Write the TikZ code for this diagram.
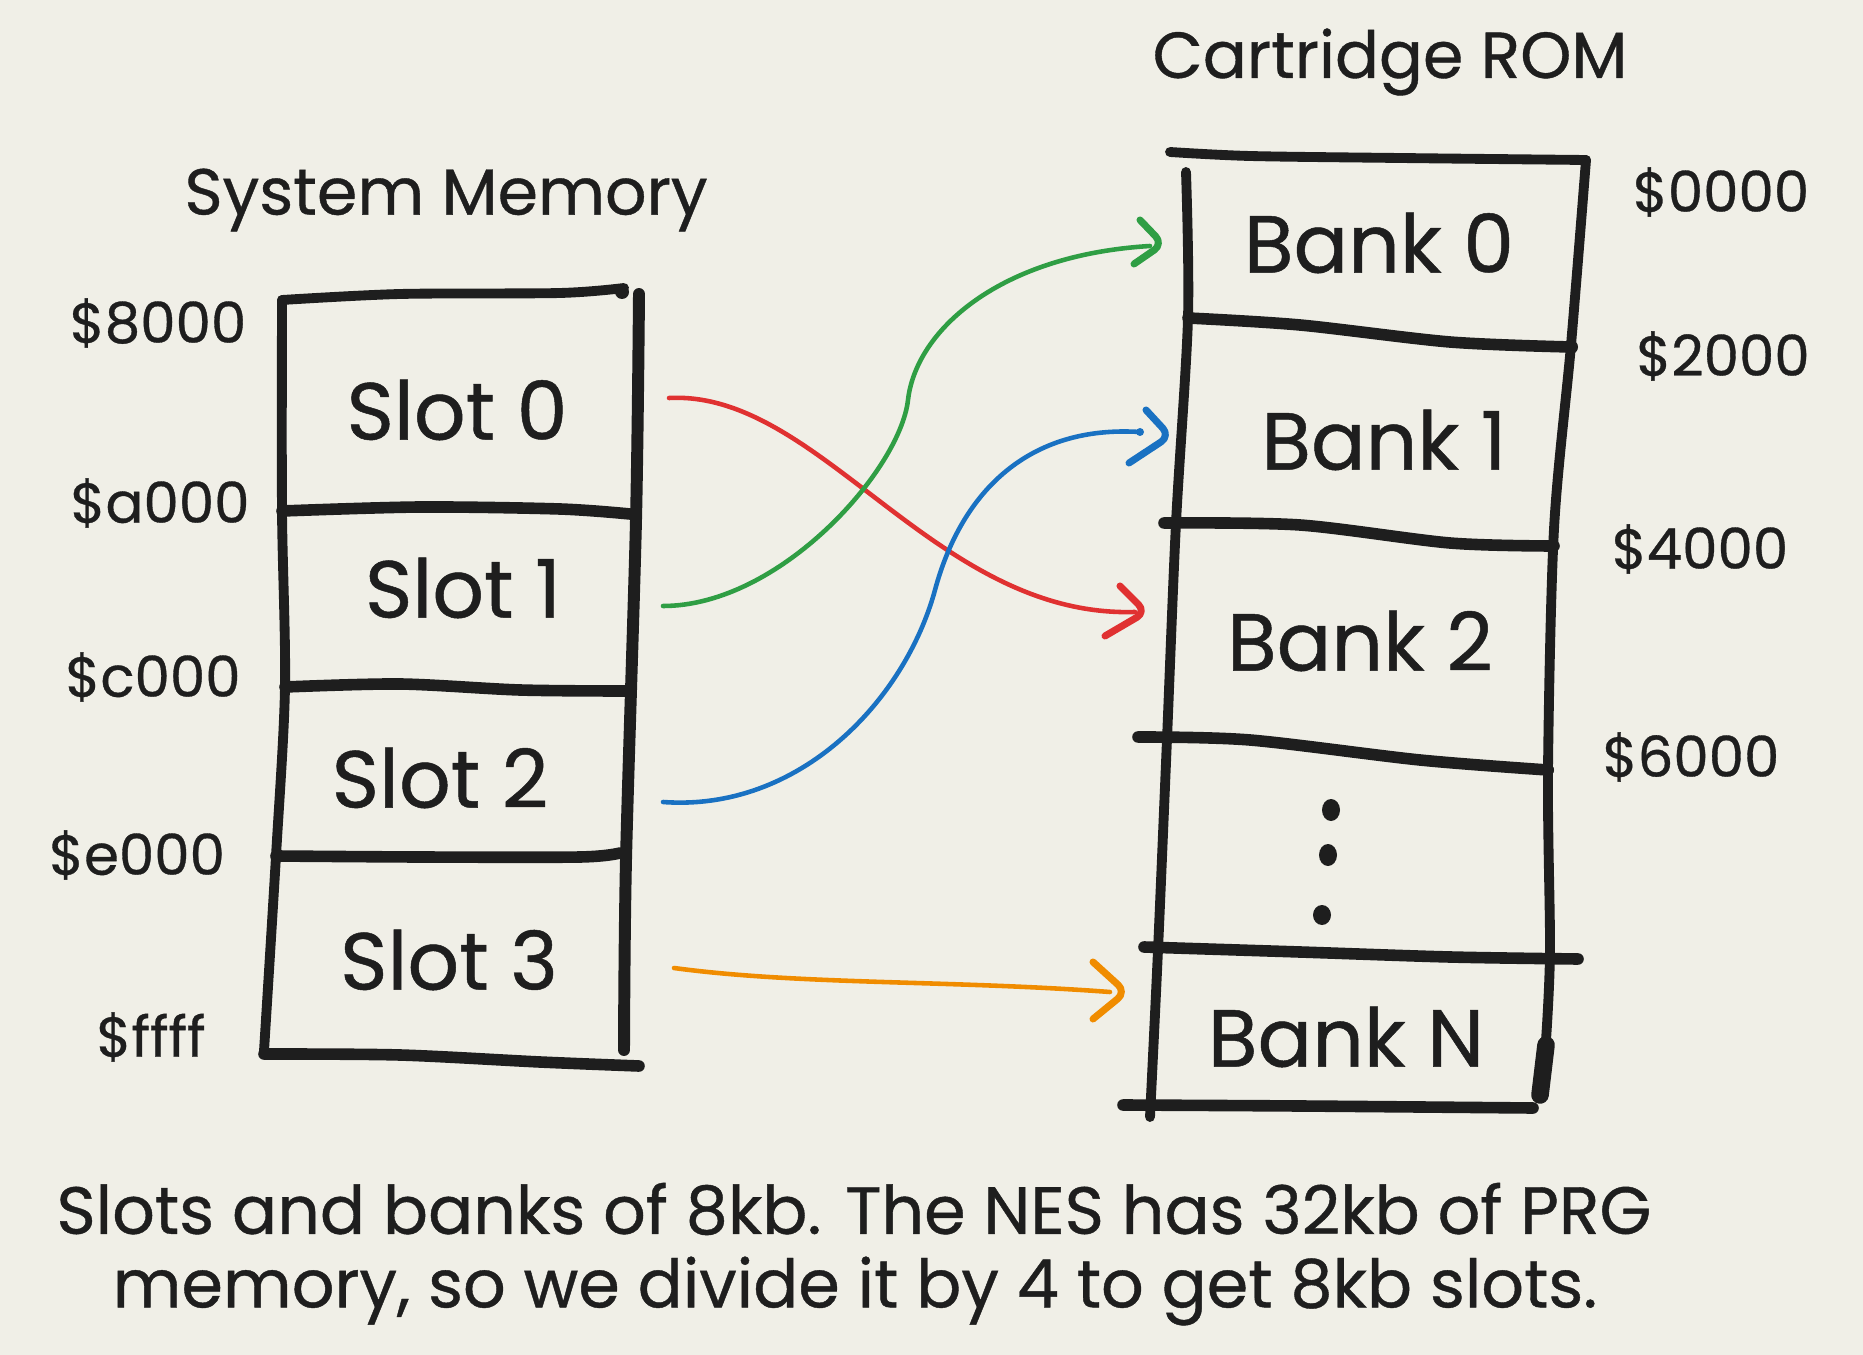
\documentclass[tikz,border=0pt]{standalone}
\usepackage{fontspec}
\setmainfont{Poppins}[FakeBold=0.6]
\definecolor{bg}{HTML}{F0EFE7}
\definecolor{ink}{HTML}{1E1E1E}
\definecolor{cred}{HTML}{E03131}
\definecolor{cgreen}{HTML}{2F9E44}
\definecolor{cblue}{HTML}{1971C2}
\definecolor{corange}{HTML}{F08C00}
\tikzset{
  ln/.style={draw=ink, line width=2.8pt, line cap=round, line join=round},
  dv/.style={draw=ink, line width=3.3pt, line cap=round, line join=round},
  conn/.style={line width=1.3pt, line cap=round},
  head/.style={line width=2pt, line cap=round, line join=round, rounded corners=3pt},
  lbl/.style={text=ink, inner sep=0pt, font=\fontsize{23}{26}\selectfont},
  addr/.style={text=ink, inner sep=0pt, font=\fontsize{16}{19}\selectfont},
  ttl/.style={text=ink, inner sep=0pt, font=\fontsize{18.5}{22}\selectfont},
  captxt/.style={text=ink, inner sep=0pt, font=\fontsize{19}{22}\selectfont},
}
\begin{document}
\begin{tikzpicture}[x=0.01cm,y=-0.01cm]
\fill[bg] (0,0) rectangle (1863,1355);
\useasboundingbox (0,0) rectangle (1863,1355);

% ---------- System Memory box ----------
\draw[ln] plot[smooth] coordinates {(282,300) (400,294) (560,293) (624,288)};
\fill[ink] (622,292) circle (7);
\draw[ln, line width=3.4pt] plot[smooth] coordinates {(639,294) (636,520) (626,860) (624,1050)};
\draw[ln] plot[smooth] coordinates {(282,300) (282,511) (285,687) (276,856) (264,1051)};
\draw[dv] plot[smooth] coordinates {(264,1054) (400,1055) (540,1062) (639,1066)};
\draw[dv] plot[smooth] coordinates {(282,511) (420,507) (560,509) (630,514)};
\draw[dv] plot[smooth] coordinates {(285,687) (400,684) (520,690) (626,691)};
\draw[dv] plot[smooth] coordinates {(276,856) (420,857) (580,857) (620,853)};

% ---------- Cartridge ROM box ----------
\draw[ln] plot[smooth] coordinates {(1170,152) (1250,156) (1400,158) (1586,160)};
\draw[ln] plot[smooth] coordinates {(1586,160) (1571,345) (1554,529) (1548,770) (1550,950) (1546,1040)};
\draw[ln, line width=5pt] (1546,1045) -- (1540,1095);
\draw[ln] plot[smooth] coordinates {(1186,172) (1188,318) (1176,523) (1167,739) (1158,950) (1150,1117)};
\draw[dv] plot[smooth] coordinates {(1188,318) (1300,325) (1450,342) (1571,347)};
\fill[ink] (1571,347) circle (7);
\fill[ink] (1190,320) circle (5);
\draw[dv] plot[smooth] coordinates {(1164,523) (1300,525) (1450,543) (1554,546)};
\draw[dv] plot[smooth] coordinates {(1138,737) (1250,740) (1420,760) (1548,770)};
\fill[ink] (1548,770) circle (6);
\draw[dv] plot[smooth] coordinates {(1144,947) (1300,952) (1450,957) (1578,959)};
\draw[dv] plot[smooth] coordinates {(1123,1105) (1300,1106) (1533,1108)};
\fill[ink] (1331,810) ellipse (9 and 11);
\fill[ink] (1328,855) ellipse (9 and 11);
\fill[ink] (1322,915) ellipse (9 and 10);

% ---------- Titles ----------
\node[ttl] (tsys) at (446,200) {System Memory};
\node[ttl] (trom) at (1390,62) {Cartridge ROM};

% ---------- Slots ----------
\node[lbl] (s0) at (457,410) {Slot 0};
\node[lbl] (s1) at (463,588) {Slot 1};
\node[lbl] (s2) at (440,778) {Slot 2};
\node[lbl] (s3) at (449,960) {Slot 3};

% ---------- Banks ----------
\node[lbl] (k0) at (1379,243) {Bank 0};
\node[lbl] (k1) at (1384,440) {Bank 1};
\node[lbl] (k2) at (1360,641) {Bank 2};
\node[lbl] (kn) at (1346,1037) {Bank N};

% ---------- Addresses ----------
\node[addr] (a8) at (158,323) {\$8000};
\node[addr] (aa) at (160,503) {\$a000};
\node[addr] (ac) at (153,677) {\$c000};
\node[addr] (ae) at (137,855) {\$e000};
\node[addr] (af) at (151,1037) {\$ffff};
\node[addr] (r0a) at (1721,192) {\$0000};
\node[addr] (r2a) at (1723,356) {\$2000};
\node[addr] (r4a) at (1700,549) {\$4000};
\node[addr] (r6a) at (1691,757) {\$6000};

% ---------- Caption ----------
\node[captxt] (c1) at (854,1209) {Slots and banks of 8kb. The NES has 32kb of PRG};
\node[captxt] (c2) at (855,1291) {memory, so we divide it by 4 to get 8kb slots.};

% ---------- Connectors ----------
\coordinate (rs) at (669,398);  \coordinate (re) at (1135,612);
\coordinate (rt) at (1146,612); \coordinate (ru) at (1120,586); \coordinate (rl) at (1105,636);
\draw[conn, cred] (rs) .. controls (820,390) and (935,618) .. (re);
\draw[head, cred] (ru) -- (rt) -- (rl);

\coordinate (gs) at (663,606); \coordinate (gm) at (908,400); \coordinate (ge) at (1150,246);
\coordinate (gt) at (1163,244); \coordinate (gu) at (1140,220); \coordinate (gl) at (1134,264);
\draw[conn, cgreen] (gs) .. controls (780,606) and (900,470) .. (gm) .. controls (916,330) and (1000,255) .. (ge);
\draw[head, cgreen] (gu) -- (gt) -- (gl);

\coordinate (bs) at (663,802); \coordinate (bm) at (935,590); \coordinate (be) at (1140,432);
\coordinate (bt) at (1170,436); \coordinate (bu) at (1146,410); \coordinate (bl) at (1129,463);
\draw[conn, cblue] (bs) .. controls (800,812) and (905,700) .. (bm) .. controls (962,490) and (1030,425) .. (be);
\fill[cblue] (be) circle (4);
\draw[head, cblue] (bu) -- (bt) -- (bl);

\coordinate (os) at (674,968); \coordinate (oe) at (1110,992);
\coordinate (ot) at (1126,992); \coordinate (ou) at (1093,962); \coordinate (ol) at (1093,1019);
\draw[conn, corange] (os) .. controls (800,985) and (950,980) .. (oe);
\draw[head, corange] (ou) -- (ot) -- (ol);
\end{tikzpicture}
\end{document}
